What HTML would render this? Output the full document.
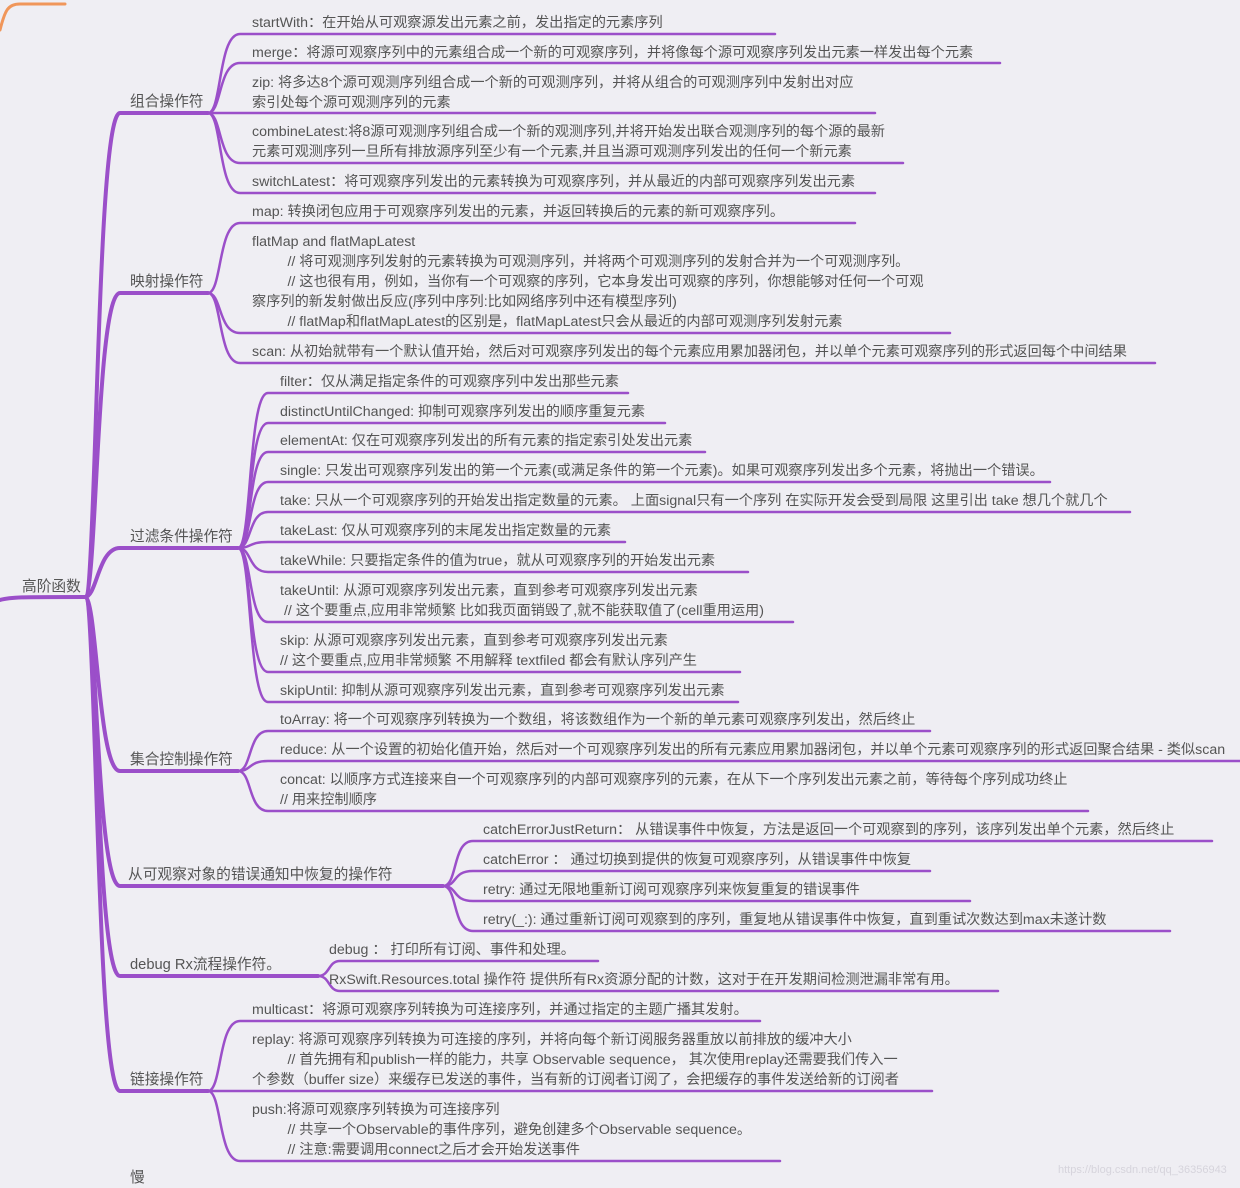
<!DOCTYPE html>
<html><head><meta charset="utf-8"><style>
body{margin:0;width:1240px;height:1184px;background:#efeef3;position:relative;overflow:hidden;font-family:"Liberation Sans","Noto Sans CJK SC",sans-serif;}
svg{position:absolute;left:0;top:0}
.t{position:absolute;font-size:14.2px;line-height:20px;color:#555;white-space:nowrap}
.c{font-size:14.7px}
</style></head><body>
<svg width="1240" height="1184" fill="none" stroke-linecap="round">
<g stroke="#f0965a" stroke-width="3"><path d="M0,30 C5,10 8,4 20,4 L65,4"/></g>
<g stroke="#9b4fc9" stroke-width="4">
<path d="M0,600 C10,597 20,597 85,597"/>
<path d="M85,597 C97,597 96,113 120,113 L208,113"/>
<path d="M85,597 C97,597 96,293 120,293 L208,293"/>
<path d="M85,597 C97,597 98,548 120,548 L238,548"/>
<path d="M85,597 C97,597 98,771 120,771 L238,771"/>
<path d="M85,597 C97,597 96,886 120,886 L443,886"/>
<path d="M85,597 C97,597 96,976 120,976 L318,976"/>
<path d="M85,597 C97,597 96,1091 120,1091 L208,1091"/>
</g>
<g stroke="#9b4fc9" stroke-width="2.5">
<path d="M208,113 C222,113 218,34 240,34 L775,34"/>
<path d="M208,113 C222,113 218,63 240,63 L1000,63"/>
<path d="M208,113 L875,113"/>
<path d="M208,113 C222,113 218,163 240,163 L903,163"/>
<path d="M208,113 C222,113 218,193 240,193 L875,193"/>
<path d="M208,293 C222,293 218,223 240,223 L855,223"/>
<path d="M208,293 C222,293 218,333 240,333 L950,333"/>
<path d="M208,293 C222,293 218,363 240,363 L1155,363"/>
<path d="M238,548 C252,548 248,393 268,393 L628,393"/>
<path d="M238,548 C252,548 248,423 268,423 L665,423"/>
<path d="M238,548 C252,548 248,452 268,452 L705,452"/>
<path d="M238,548 C252,548 248,482 268,482 L1050,482"/>
<path d="M238,548 C252,548 248,512 268,512 L1130,512"/>
<path d="M238,548 C252,548 248,542 268,542 L625,542"/>
<path d="M238,548 C252,548 248,572 268,572 L748,572"/>
<path d="M238,548 C252,548 248,622 268,622 L793,622"/>
<path d="M238,548 C252,548 248,672 268,672 L740,672"/>
<path d="M238,548 C252,548 248,702 268,702 L738,702"/>
<path d="M238,771 C252,771 248,731 268,731 L930,731"/>
<path d="M238,771 C252,771 248,761 268,761 L1240,761"/>
<path d="M238,771 C252,771 248,811 268,811 L1088,811"/>
<path d="M443,886 C458,886 452,841 473,841 L1212,841"/>
<path d="M443,886 C458,886 452,871 473,871 L930,871"/>
<path d="M443,886 C458,886 452,901 473,901 L970,901"/>
<path d="M443,886 C458,886 452,931 473,931 L1170,931"/>
<path d="M318,976 C330,976 328,961 340,961 L598,961"/>
<path d="M318,976 C330,976 328,991 340,991 L998,991"/>
<path d="M208,1091 C222,1091 218,1021 240,1021 L760,1021"/>
<path d="M208,1091 L932,1091"/>
<path d="M208,1091 C222,1091 218,1161 240,1161 L780,1161"/>
</g>
</svg>
<div class="t c" style="left:22px;top:577px">高阶函数</div>
<div class="t c" style="left:130px;top:92px">组合操作符</div>
<div class="t c" style="left:130px;top:272px">映射操作符</div>
<div class="t c" style="left:130px;top:527px">过滤条件操作符</div>
<div class="t c" style="left:130px;top:750px">集合控制操作符</div>
<div class="t c" style="left:128px;top:865px">从可观察对象的错误通知中恢复的操作符</div>
<div class="t c" style="left:130px;top:955px">debug Rx流程操作符。</div>
<div class="t c" style="left:130px;top:1070px">链接操作符</div>
<div class="t c" style="left:130px;top:1168px">慢</div>

<div class="t" style="left:252px;top:13px">startWith：在开始从可观察源发出元素之前，发出指定的元素序列</div>
<div class="t" style="left:252px;top:43px">merge：将源可观察序列中的元素组合成一个新的可观察序列，并将像每个源可观察序列发出元素一样发出每个元素</div>
<div class="t" style="left:252px;top:73px">zip: 将多达8个源可观测序列组合成一个新的可观测序列，并将从组合的可观测序列中发射出对应<br>索引处每个源可观测序列的元素</div>
<div class="t" style="left:252px;top:122px">combineLatest:将8源可观测序列组合成一个新的观测序列,并将开始发出联合观测序列的每个源的最新<br>元素可观测序列一旦所有排放源序列至少有一个元素,并且当源可观测序列发出的任何一个新元素</div>
<div class="t" style="left:252px;top:172px">switchLatest：将可观察序列发出的元素转换为可观察序列，并从最近的内部可观察序列发出元素</div>
<div class="t" style="left:252px;top:202px">map: 转换闭包应用于可观察序列发出的元素，并返回转换后的元素的新可观察序列。</div>
<div class="t" style="left:252px;top:232px">flatMap and flatMapLatest<br>&nbsp;&nbsp;&nbsp;&nbsp;&nbsp;&nbsp;&nbsp;&nbsp;&nbsp;// 将可观测序列发射的元素转换为可观测序列，并将两个可观测序列的发射合并为一个可观测序列。<br>&nbsp;&nbsp;&nbsp;&nbsp;&nbsp;&nbsp;&nbsp;&nbsp;&nbsp;// 这也很有用，例如，当你有一个可观察的序列，它本身发出可观察的序列，你想能够对任何一个可观<br>察序列的新发射做出反应(序列中序列:比如网络序列中还有模型序列)<br>&nbsp;&nbsp;&nbsp;&nbsp;&nbsp;&nbsp;&nbsp;&nbsp;&nbsp;// flatMap和flatMapLatest的区别是，flatMapLatest只会从最近的内部可观测序列发射元素</div>
<div class="t" style="left:252px;top:342px">scan: 从初始就带有一个默认值开始，然后对可观察序列发出的每个元素应用累加器闭包，并以单个元素可观察序列的形式返回每个中间结果</div>

<div class="t" style="left:280px;top:372px">filter：仅从满足指定条件的可观察序列中发出那些元素</div>
<div class="t" style="left:280px;top:402px">distinctUntilChanged: 抑制可观察序列发出的顺序重复元素</div>
<div class="t" style="left:280px;top:431px">elementAt: 仅在可观察序列发出的所有元素的指定索引处发出元素</div>
<div class="t" style="left:280px;top:461px">single: 只发出可观察序列发出的第一个元素(或满足条件的第一个元素)。如果可观察序列发出多个元素，将抛出一个错误。</div>
<div class="t" style="left:280px;top:491px">take: 只从一个可观察序列的开始发出指定数量的元素。 上面signal只有一个序列 在实际开发会受到局限 这里引出 take 想几个就几个</div>
<div class="t" style="left:280px;top:521px">takeLast: 仅从可观察序列的末尾发出指定数量的元素</div>
<div class="t" style="left:280px;top:551px">takeWhile: 只要指定条件的值为true，就从可观察序列的开始发出元素</div>
<div class="t" style="left:280px;top:581px">takeUntil: 从源可观察序列发出元素，直到参考可观察序列发出元素<br>&nbsp;// 这个要重点,应用非常频繁 比如我页面销毁了,就不能获取值了(cell重用运用)</div>
<div class="t" style="left:280px;top:631px">skip: 从源可观察序列发出元素，直到参考可观察序列发出元素<br>// 这个要重点,应用非常频繁 不用解释 textfiled 都会有默认序列产生</div>
<div class="t" style="left:280px;top:681px">skipUntil: 抑制从源可观察序列发出元素，直到参考可观察序列发出元素</div>
<div class="t" style="left:280px;top:710px">toArray: 将一个可观察序列转换为一个数组，将该数组作为一个新的单元素可观察序列发出，然后终止</div>
<div class="t" style="left:280px;top:740px">reduce: 从一个设置的初始化值开始，然后对一个可观察序列发出的所有元素应用累加器闭包，并以单个元素可观察序列的形式返回聚合结果 - 类似scan</div>
<div class="t" style="left:280px;top:770px">concat: 以顺序方式连接来自一个可观察序列的内部可观察序列的元素，在从下一个序列发出元素之前，等待每个序列成功终止<br>// 用来控制顺序</div>

<div class="t" style="left:483px;top:820px">catchErrorJustReturn： 从错误事件中恢复，方法是返回一个可观察到的序列，该序列发出单个元素，然后终止</div>
<div class="t" style="left:483px;top:850px">catchError ： 通过切换到提供的恢复可观察序列，从错误事件中恢复</div>
<div class="t" style="left:483px;top:880px">retry: 通过无限地重新订阅可观察序列来恢复重复的错误事件</div>
<div class="t" style="left:483px;top:910px">retry(_:): 通过重新订阅可观察到的序列，重复地从错误事件中恢复，直到重试次数达到max未遂计数</div>
<div class="t" style="left:329px;top:940px">debug ： 打印所有订阅、事件和处理。</div>
<div class="t" style="left:329px;top:970px">RxSwift.Resources.total 操作符 提供所有Rx资源分配的计数，这对于在开发期间检测泄漏非常有用。</div>

<div class="t" style="left:252px;top:1000px">multicast：将源可观察序列转换为可连接序列，并通过指定的主题广播其发射。</div>
<div class="t" style="left:252px;top:1030px">replay: 将源可观察序列转换为可连接的序列，并将向每个新订阅服务器重放以前排放的缓冲大小<br>&nbsp;&nbsp;&nbsp;&nbsp;&nbsp;&nbsp;&nbsp;&nbsp;&nbsp;// 首先拥有和publish一样的能力，共享 Observable sequence， 其次使用replay还需要我们传入一<br>个参数（buffer size）来缓存已发送的事件，当有新的订阅者订阅了，会把缓存的事件发送给新的订阅者</div>
<div class="t" style="left:252px;top:1100px">push:将源可观察序列转换为可连接序列<br>&nbsp;&nbsp;&nbsp;&nbsp;&nbsp;&nbsp;&nbsp;&nbsp;&nbsp;// 共享一个Observable的事件序列，避免创建多个Observable sequence。<br>&nbsp;&nbsp;&nbsp;&nbsp;&nbsp;&nbsp;&nbsp;&nbsp;&nbsp;// 注意:需要调用connect之后才会开始发送事件</div>
<div class="t" style="left:1058px;top:1160px;font-size:11px;color:#d6d4dc">https://blog.csdn.net/qq_36356943</div>
</body></html>
